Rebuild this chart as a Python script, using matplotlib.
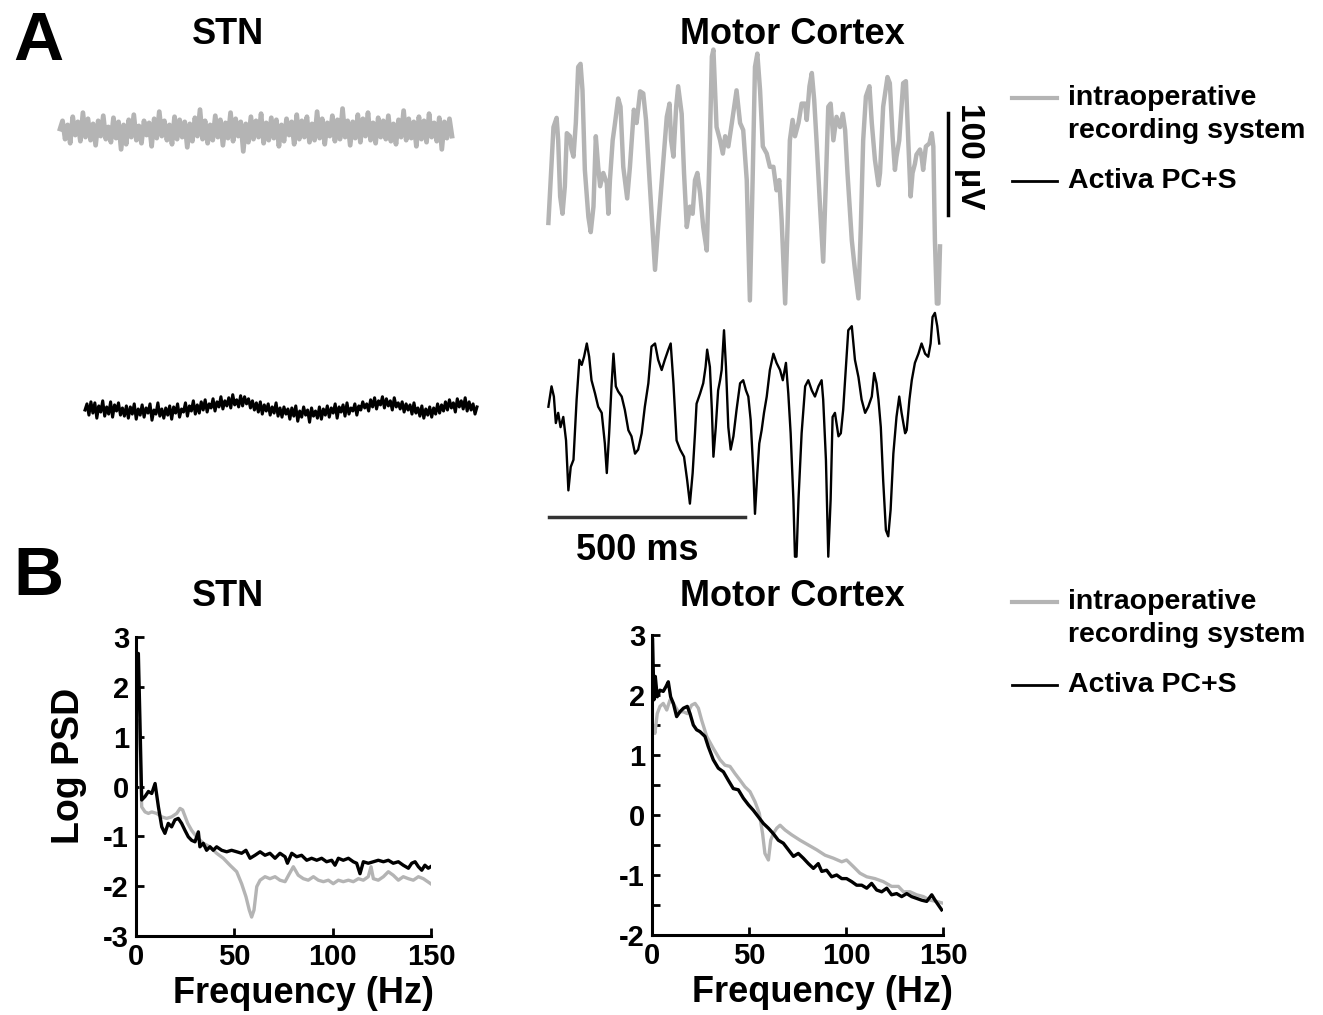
import numpy as np
import matplotlib
matplotlib.use("Agg")
import matplotlib.pyplot as plt
from matplotlib.lines import Line2D

plt.rcParams['font.family'] = ['Liberation Sans', 'DejaVu Sans']
plt.rcParams['font.weight'] = 'bold'
plt.rcParams['axes.unicode_minus'] = False

# ---- panel A: raw traces (ms, uV) ----
stn_gray = [2, 10, -8, 6, -12, 14, -4, 9, -10, 18, -6, 12, -9, 7, -14, 10, -5, 15, -8, 4,
            -11, 13, -7, 9, -18, 6, -13, 11, -6, 16, -9, 5, -12, 10, -4, 8, -15, 12, -7, 19,
            -5, 10, -9, 6, -13, 14, -8, 11, -6, 9, -16, 7, -10, 13, -5, 21, -8, 10, -12, 6,
            -9, 15, -6, 11, -14, 8, -7, 18, -10, 12, -5, 9, -20, 7, -11, 14, -8, 10, -6, 17,
            -12, 8, -9, 13, -7, 11, -15, 6, -10, 12, -4, 9, -13, 16, -8, 10, -6, 14, -11, 7,
            -9, 19, -7, 12, -13, 8, -5, 15, -10, 11, -8, 22, -6, 10, -14, 9, -7, 16, -11, 12,
            -5, 18, -9, 8, -12, 13, -6, 10, -8, 15, -10, 7, -13, 11, -6, 20, -9, 12, -7, 9,
            -15, 14, -8, 10, -11, 17, -6, 8, -10, 13, -18, 9, -7, 12, -5]

stn_black = [0, 6, -5, 8, -3, 7, -8, 4, -2, 9, -6, 3, -4, 8, -7, 5, -1, 7, -5, 2,
             -6, 4, -8, 3, -4, 6, -9, 1, -5, 5, -7, 2, -3, 6, -10, 0, -4, 7, -6, 1,
             -8, 2, -5, 4, -9, 3, -3, 6, -7, 1, -2, 7, -6, 4, -1, 9, -4, 5, -3, 8,
             0, 10, -2, 6, 2, 11, -1, 8, 3, 13, 1, 9, 4, 12, 2, 15, 5, 10, 3, 14,
             4, 13, 6, 11, 2, 9, 0, 7, -2, 8, -4, 5, -1, 6, -5, 3, -3, 7, -6, 2,
             -7, 3, -4, 1, -9, 2, -6, 4, -11, -1, -7, 3, -5, 0, -12, 2, -6, -1, -8, 3,
             -9, 1, -5, 4, -7, 2, -3, 6, -8, 3, -2, 5, -6, 7, -4, 2, -1, 6, -5, 4,
             0, 8, 2, 6, -1, 10, 3, 12, 1, 9, 5, 13, 2, 11, 4, 9, 0, 12, 3, 7,
             1, 8, -2, 6, 0, 5, -4, 7, -3, 2, -6, 4, -8, 1, -5, 3, -7, 2, -4, 6,
             -3, 5, -1, 8, 0, 10, 2, 7, -2, 11, 3, 9, 1, 12, -1, 8, 0, 6, -4, 3]

mc_gray_t = [1, 14, 22, 26, 31, 37, 43, 48, 56, 60, 65, 71, 77, 83, 88, 94, 103, 109, 116, 122,
             128, 133, 141, 150, 154, 158, 165, 171, 179, 185, 192, 202, 209, 219, 226, 235, 243, 250, 259, 273,
             281, 293, 303, 310, 314, 320, 327, 332, 341, 347, 354, 362, 369, 375, 381, 388, 396, 405, 413, 418,
             422, 430, 439, 446, 452, 460, 469, 481, 490, 498, 507, 515, 522, 528, 534, 541, 548, 558, 566, 575,
             583, 590, 596, 605, 611, 617, 624, 630, 639, 647, 656, 660, 667, 673, 679, 685, 694, 702, 709, 715,
             721, 728, 736, 745, 752, 758, 764, 775, 783, 792, 798, 804, 811, 820, 826, 834, 843, 847, 855, 866,
             872, 879, 885, 889, 896, 906, 913, 919, 925, 930, 936, 940, 949, 953, 957, 964, 973, 979, 983, 987,
             992, 996, 1000]
mc_gray_v = [-47, 47, 56, 34, -21, -38, -11, 41, 38, 25, 18, 51, 106, 109, 83, 5, -41, -56, -31, 38,
             8, -11, 2, -8, -38, -5, 34, 51, 75, 67, 8, -23, 8, 64, 51, 82, 80, 54, -5, -93,
             -51, 8, 57, 70, 34, 18, 67, 87, 60, 2, -51, -31, -38, -5, 2, -18, -51, -74, 34, 116,
             123, 47, 34, 21, 38, 28, 51, 83, 51, 44, -5, -123, -5, 106, 119, 83, 28, 21, 8, 8,
             -15, -5, -44, -126, -51, 34, 54, 38, 51, 70, 70, 54, 87, 100, 74, 34, -31, -85, -5, 67,
             70, 34, 57, 47, 60, 44, 2, -64, -93, -121, -51, 34, 77, 87, 51, 15, -10, 2, 67, 96,
             90, 38, 5, 18, 34, 90, 92, 34, -21, 2, 11, 20, 25, 18, 5, 28, 31, 41, 28, -64,
             -126, -126, -70]

mc_black_t = [1, 9, 15, 20, 26, 32, 39, 46, 52, 58, 65, 73, 80, 86, 92, 99, 105, 111, 120, 128,
              137, 145, 150, 156, 162, 167, 173, 179, 188, 196, 205, 213, 222, 230, 239, 247, 256, 264, 273, 281,
              290, 298, 307, 313, 320, 328, 337, 347, 355, 362, 369, 375, 379, 388, 396, 402, 406, 413, 418, 422,
              428, 434, 439, 443, 449, 454, 460, 466, 473, 481, 490, 498, 505, 511, 517, 524, 528, 534, 539, 545,
              551, 558, 566, 575, 583, 592, 599, 607, 613, 619, 626, 630, 634, 639, 647, 656, 664, 673, 681, 690,
              698, 702, 709, 715, 721, 726, 732, 741, 747, 753, 760, 766, 775, 783, 792, 800, 809, 817, 826, 832,
              838, 843, 849, 855, 862, 868, 874, 881, 889, 896, 902, 911, 915, 922, 928, 936, 945, 953, 962, 970,
              976, 981, 987, 993, 998]
mc_black_v = [13, 33, 23, -3, 7, -7, 3, -20, -69, -46, -39, 20, 59, 54, 62, 75, 62, 39, 26, 13,
              7, -23, -52, -13, 33, 65, 33, 28, 23, 10, -10, -16, -33, -29, -13, 13, 36, 72, 75, 59,
              49, 59, 69, 75, 36, -20, -29, -36, -59, -82, -52, -13, 16, 26, 36, 52, 69, 52, 10, -36,
              -7, 29, 39, 49, 88, 52, -7, -29, -16, 10, 36, 39, 29, 23, 0, -52, -92, -52, -23, -10,
              7, 23, 49, 65, 56, 49, 39, 56, 26, -13, -78, -134, -134, -78, -13, 33, 39, 29, 23, 33,
              39, 20, -39, -134, -78, 3, 7, -16, -13, 10, 52, 88, 92, 59, 42, 20, 7, 13, 23, 46,
              36, 20, -7, -59, -108, -114, -88, -33, 3, 23, 7, -13, -10, 20, 39, 56, 65, 75, 65, 62,
              75, 101, 105, 92, 75]

# ---- panel B: power spectra (Hz, log PSD) ----
stn_psd_gray_f = [0, 0.3, 1.5, 2.9, 4.6, 6.3, 8.0, 10.5, 13.1, 15.6, 18.1, 20.7, 22.4, 23.7, 26.3, 28.3,
                  30.8, 34.2, 37.6, 41.0, 44.4, 47.8, 51.2, 53.7, 55.9, 57.6, 58.8, 60.0, 61.4, 63.1,
                  65.6, 68.1, 70.7, 73.2, 75.8, 78.0, 80.0, 82.5, 85.1, 87.6, 90.2, 92.7, 95.3, 97.8,
                  100.3, 102.9, 105.4, 108.0, 110.5, 113.1, 115.6, 118.1, 119.5, 120.7, 123.2, 125.8,
                  128.3, 130.8, 133.4, 135.9, 138.5, 141.0, 143.6, 146.1, 149.8]
stn_psd_gray = [1.2, 1.0, 1.33, -0.41, -0.51, -0.54, -0.51, -0.54, -0.61, -0.64, -0.61, -0.54, -0.44, -0.47,
                -0.74, -0.88, -1.01, -1.14, -1.21, -1.34, -1.44, -1.58, -1.71, -1.95, -2.21, -2.48, -2.62,
                -2.48, -2.01, -1.88, -1.81, -1.85, -1.81, -1.88, -1.91, -1.75, -1.61, -1.78, -1.85, -1.88,
                -1.81, -1.88, -1.91, -1.88, -1.95, -1.88, -1.91, -1.88, -1.91, -1.85, -1.88, -1.81, -1.61,
                -1.85, -1.88, -1.81, -1.71, -1.78, -1.88, -1.81, -1.85, -1.88, -1.81, -1.85, -1.95]

stn_psd_black_f = [0.3, 1.2, 2.0, 2.9, 4.6, 6.3, 8.0, 9.7, 11.4, 13.1, 14.7, 16.4, 18.1, 19.8, 21.5, 23.2,
                   24.9, 26.6, 28.3, 30.0, 31.7, 32.5, 34.2, 35.9, 37.6, 39.3, 41.0, 43.6, 46.1, 48.6,
                   51.2, 53.7, 55.9, 58.0, 60.5, 63.1, 65.6, 68.1, 70.7, 73.2, 75.8, 77.0, 79.2, 81.7,
                   84.2, 86.8, 89.3, 91.9, 94.4, 96.9, 99.5, 101.2, 102.9, 105.4, 108.0, 110.5, 112.2,
                   113.9, 115.6, 118.1, 120.7, 123.2, 125.8, 128.3, 130.8, 133.4, 135.9, 138.5, 140.2,
                   141.9, 143.6, 145.3, 146.9, 148.6, 149.8]
stn_psd_black = [2.6, 2.67, 1.33, -0.27, -0.2, -0.1, -0.14, 0.06, -0.41, -0.81, -0.94, -0.74, -0.81, -0.67,
                 -0.64, -0.74, -0.88, -1.01, -1.08, -1.11, -0.91, -1.21, -1.14, -1.28, -1.21, -1.28, -1.21,
                 -1.28, -1.31, -1.28, -1.31, -1.34, -1.28, -1.44, -1.38, -1.31, -1.38, -1.34, -1.44, -1.34,
                 -1.41, -1.54, -1.34, -1.41, -1.38, -1.48, -1.44, -1.48, -1.44, -1.51, -1.48, -1.58, -1.44,
                 -1.48, -1.44, -1.51, -1.54, -1.75, -1.51, -1.54, -1.51, -1.48, -1.51, -1.48, -1.54, -1.51,
                 -1.58, -1.64, -1.54, -1.51, -1.61, -1.68, -1.58, -1.64, -1.61]

mc_psd_gray_f = [0, 0.7, 1.5, 2.7, 4.1, 5.8, 7.6, 9.3, 11.0, 13.6, 16.2, 18.2, 20.4, 22.2, 23.9, 25.6,
                 28.2, 31.6, 35.1, 37.6, 40.2, 42.8, 45.4, 47.9, 50.5, 53.1, 55.3, 57.0, 58.2, 60.0,
                 61.2, 62.5, 64.3, 66.0, 68.6, 72.0, 76.3, 80.6, 84.9, 89.2, 93.5, 97.8, 100.3, 103.8,
                 107.2, 110.7, 114.9, 119.2, 123.5, 127.0, 129.6, 133.0, 136.4, 139.9, 143.3, 146.7, 150.0]
mc_psd_gray = [1.53, 1.47, 1.36, 1.69, 1.81, 1.86, 1.75, 1.92, 1.86, 1.72, 1.72, 1.69, 1.83, 1.86, 1.78,
               1.58, 1.31, 1.11, 0.92, 0.83, 0.81, 0.69, 0.58, 0.47, 0.39, 0.22, 0.03, -0.31, -0.64, -0.75,
               -0.42, -0.31, -0.22, -0.17, -0.25, -0.33, -0.42, -0.5, -0.58, -0.67, -0.72, -0.78, -0.75,
               -0.86, -0.97, -1.03, -1.06, -1.11, -1.19, -1.19, -1.28, -1.28, -1.33, -1.36, -1.42, -1.44, -1.47]

mc_psd_black_f = [0.3, 1.0, 1.7, 2.7, 4.1, 5.8, 7.2, 8.4, 9.6, 11.0, 12.7, 14.4, 16.2, 18.2, 19.6, 21.3,
                  23.0, 24.7, 27.3, 29.0, 31.6, 34.2, 36.8, 39.3, 41.9, 44.5, 47.1, 49.7, 52.2, 54.8,
                  57.4, 60.0, 62.5, 65.1, 67.7, 70.3, 72.9, 75.4, 78.0, 80.6, 83.2, 85.7, 87.5, 90.0,
                  92.6, 95.2, 97.8, 100.3, 102.9, 105.5, 108.1, 110.7, 113.2, 115.8, 118.4, 121.0,
                  123.5, 126.1, 128.7, 131.3, 133.8, 136.4, 139.0, 141.6, 144.2, 145.9, 147.6, 149.3]
mc_psd_black = [2.92, 1.92, 2.31, 1.97, 2.08, 2.06, 2.14, 2.22, 1.97, 1.86, 1.64, 1.72, 1.78, 1.81, 1.69,
                1.5, 1.42, 1.39, 1.31, 1.14, 0.92, 0.78, 0.72, 0.58, 0.44, 0.42, 0.28, 0.17, 0.08, -0.03,
                -0.14, -0.22, -0.31, -0.42, -0.47, -0.58, -0.69, -0.64, -0.72, -0.81, -0.89, -0.81, -0.94,
                -0.92, -1.03, -1.0, -1.06, -1.06, -1.11, -1.17, -1.17, -1.22, -1.14, -1.25, -1.28, -1.22,
                -1.33, -1.31, -1.36, -1.31, -1.36, -1.39, -1.42, -1.44, -1.33, -1.42, -1.5, -1.58]

GRAY = '#b4b4b4'
W, H = 1323, 1015

fig = plt.figure(figsize=(W / 100, H / 100), dpi=100)


def fx(px):
    return px / W


def fy(py):
    return 1 - py / H


# panel A axes covers the whole figure: x in ms, y in uV (0.392 px/ms, 1.02 px/uV)
PX_MS, PX_UV = 0.392, 1.02
axA = fig.add_axes([0, 0, 1, 1])
axA.set_xlim(0, W / PX_MS)
axA.set_ylim(-H / PX_UV, 0)
axA.axis('off')


def trace(t, v, x0, y0, **kw):
    axA.plot(np.asarray(t) + x0 / PX_MS, np.asarray(v) - y0 / PX_UV, **kw)


t_gray = np.linspace(0, 1000, len(stn_gray))
t_black = np.linspace(0, 1000, len(stn_black))
trace(t_gray, stn_gray, 60, 131, color=GRAY, lw=3.4)
trace(t_black, stn_black, 85, 410, color='black', lw=2.2)
trace(mc_gray_t, mc_gray_v, 548, 175, color=GRAY, lw=3.2)
trace(mc_black_t, mc_black_v, 548, 420, color='black', lw=1.7)

# scale bars
trace([0, 500], [0, 0], 549, 517, color='#333333', lw=2.5)
trace([0, 0], [0, -100], 948, 113, color='black', lw=2.5)
fig.text(fx(637), fy(551), '500 ms', ha='center', va='center', fontsize=26, fontweight='bold')
fig.text(fx(970), fy(156), '100 µV', ha='center', va='center', fontsize=24, fontweight='bold',
         rotation=-90)

# panel letters and titles
fig.text(fx(38), fy(42), 'A', ha='center', va='center', fontsize=50, fontweight='bold')
fig.text(fx(38), fy(577), 'B', ha='center', va='center', fontsize=50, fontweight='bold')
for py in (35, 596):
    fig.text(fx(228), fy(py), 'STN', ha='center', va='center', fontsize=26, fontweight='bold')
    fig.text(fx(792), fy(py), 'Motor Cortex', ha='center', va='center', fontsize=26,
             fontweight='bold')


# legends (drawn by hand so the line sits on the first text row)
def legend_block(py):
    fig.add_artist(Line2D([fx(1012), fx(1057)], [fy(py), fy(py)], color=GRAY, lw=3))
    fig.text(fx(1068), fy(py), 'intraoperative', va='center', fontsize=20.5, fontweight='bold')
    fig.text(fx(1068), fy(py + 33), 'recording system', va='center', fontsize=20.5,
             fontweight='bold')
    fig.add_artist(Line2D([fx(1012), fx(1057)], [fy(py + 83), fy(py + 83)], color='black', lw=2))
    fig.text(fx(1068), fy(py + 83), 'Activa PC+S', va='center', fontsize=20.5, fontweight='bold')


legend_block(98)
legend_block(602)


# panel B axes
def psd_axes(left, right, top, bottom, ylo, yhi, label_x):
    ax = fig.add_axes([fx(left), fy(bottom), (right - left) / W, (bottom - top) / H])
    ax.set_xlim(0, 150)
    ax.set_ylim(ylo, yhi)
    for s in ('top', 'right'):
        ax.spines[s].set_visible(False)
    for s in ('left', 'bottom'):
        ax.spines[s].set_linewidth(2.2)
    ax.set_xticks([0, 50, 100, 150])
    ax.set_yticks(range(ylo, yhi + 1))
    ax.tick_params(direction='in', length=6, width=2, labelsize=21, pad=5)
    for lab in ax.get_xticklabels() + ax.get_yticklabels():
        lab.set_fontweight('bold')
    ax.set_xlabel('Frequency (Hz)', fontsize=26, fontweight='bold')
    ax.xaxis.set_label_coords(label_x, -0.135)
    return ax


ax1 = psd_axes(136, 431, 637, 936, -3, 3, 0.568)
ax1.plot(stn_psd_gray_f, stn_psd_gray, color=GRAY, lw=2.4)
ax1.plot(stn_psd_black_f, stn_psd_black, color='black', lw=2.4)
ax1.set_ylabel('Log PSD', fontsize=27, fontweight='bold')
ax1.yaxis.set_label_coords(-0.165, 0.57)

ax2 = psd_axes(652, 943, 635, 935, -2, 3, 0.586)
ax2.set_yticks(np.arange(-2, 3.01, 0.5), minor=True)
ax2.tick_params(which='minor', direction='in', length=6, width=2)
ax2.plot(mc_psd_gray_f, mc_psd_gray, color=GRAY, lw=2.4)
ax2.plot(mc_psd_black_f, mc_psd_black, color='black', lw=2.4)

fig.savefig('out.png', dpi=100)
